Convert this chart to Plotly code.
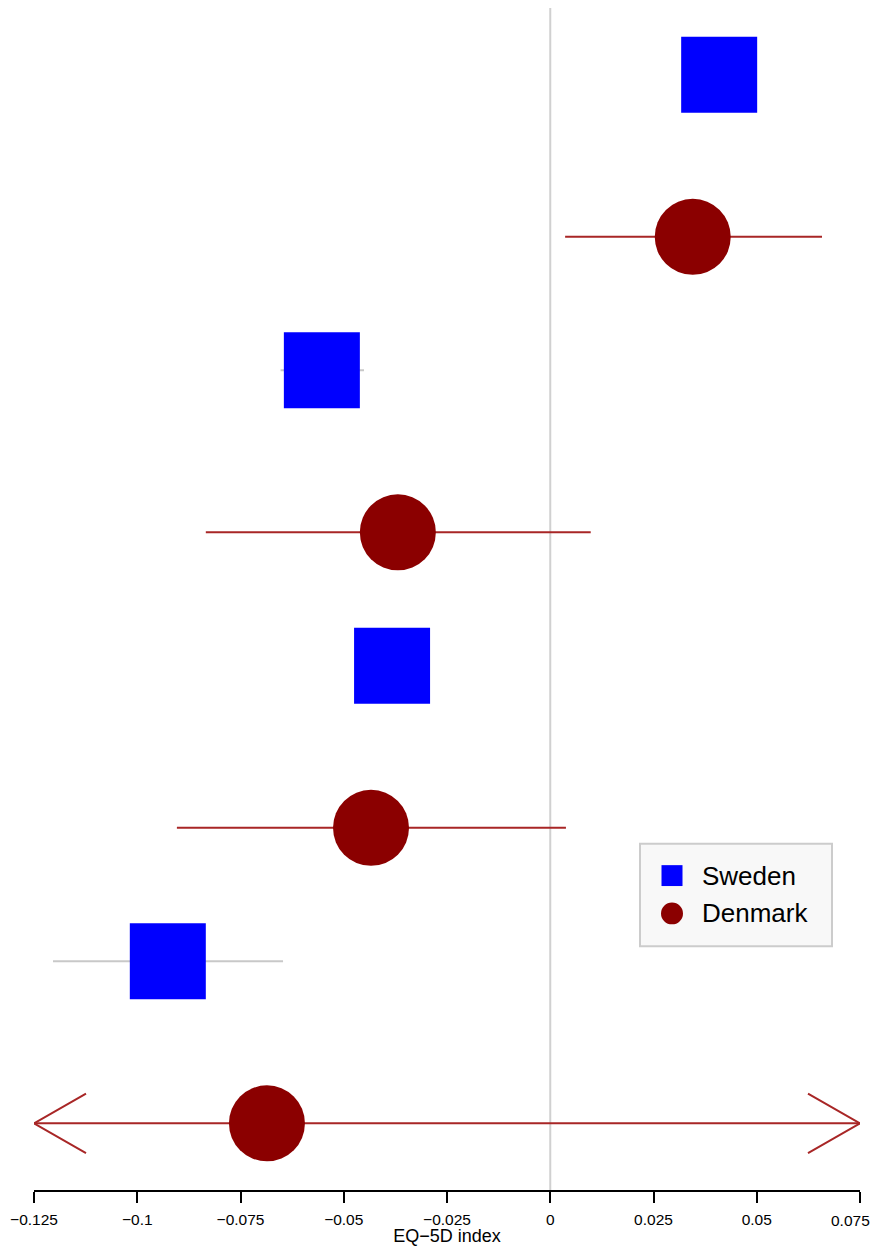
import plotly.graph_objects as go

# ---- data ----
groups = [0, 1, 2, 3]
sweden_est = [0.0409, -0.0553, -0.0383, -0.0926]
sweden_lo = [0.0385, -0.0653, -0.0420, -0.1204]
sweden_hi = [0.0433, -0.0451, -0.0346, -0.0647]
denmark_est = [0.0345, -0.0369, -0.0434, -0.0686]
denmark_lo = [0.0036, -0.0834, -0.0904, -0.2290]
denmark_hi = [0.0658, 0.0098, 0.0038, 0.0920]
tick_vals = [-0.125, -0.1, -0.075, -0.05, -0.025, 0, 0.025, 0.05, 0.075]
tick_text = ["\u22120.125", "\u22120.1", "\u22120.075", "\u22120.05", "\u22120.025",
             "0", "0.025", "0.05", "0.075"]
x_title = "EQ\u22125D index"
series_names = ["Sweden", "Denmark"]

# ---- style ----
PAGE_OFF = 8                      # browser default body margin
W, H = 873, 1238
ML, MR, MT, MB = 26, 21, 0, 50
XMIN, XMAX = -0.125, 0.075
OFFSET = 0.2745
BLUE = "#0000ff"
DARKRED = "#8b0000"
RED_LINE = "#a82626"
GRAY_LINE = "#c8c8c8"
FONT = "Liberation Sans, Arial, sans-serif"
TICK_SIZE = 15.5

pw = W - ML - MR
ph = H - MT - MB
xscale = pw / (XMAX - XMIN)      # px per unit x
yscale = ph / 4.0                # px per unit y
arrow_dx = 52 / xscale
arrow_dy = 30 / yscale

fig = go.Figure()


def add_ci(est_y, lo, hi, color):
    for yv, a, b in zip(est_y, lo, hi):
        a_c = max(a, XMIN)
        b_c = min(b, XMAX)
        fig.add_trace(go.Scatter(x=[a_c, b_c], y=[yv, yv], mode="lines",
                                 line=dict(color=color, width=2),
                                 showlegend=False, hoverinfo="skip",
                                 cliponaxis=False))
        if a < XMIN:
            fig.add_trace(go.Scatter(
                x=[a_c + arrow_dx, a_c, a_c + arrow_dx],
                y=[yv - arrow_dy, yv, yv + arrow_dy], mode="lines",
                line=dict(color=color, width=2), showlegend=False,
                hoverinfo="skip", cliponaxis=False))
        if b > XMAX:
            fig.add_trace(go.Scatter(
                x=[b_c - arrow_dx, b_c, b_c - arrow_dx],
                y=[yv - arrow_dy, yv, yv + arrow_dy], mode="lines",
                line=dict(color=color, width=2), showlegend=False,
                hoverinfo="skip", cliponaxis=False))


sw_y = [g - OFFSET for g in groups]
dk_y = [g + OFFSET for g in groups]

add_ci(sw_y, sweden_lo, sweden_hi, GRAY_LINE)
add_ci(dk_y, denmark_lo, denmark_hi, RED_LINE)

fig.add_trace(go.Scatter(x=sweden_est, y=sw_y, mode="markers", name=series_names[0],
                         marker=dict(symbol="square", size=76, color=BLUE,
                                     line=dict(width=0)),
                         showlegend=False, cliponaxis=False, hoverinfo="skip"))
fig.add_trace(go.Scatter(x=denmark_est, y=dk_y, mode="markers", name=series_names[1],
                         marker=dict(symbol="circle", size=76, color=DARKRED,
                                     line=dict(width=0)),
                         showlegend=False, cliponaxis=False, hoverinfo="skip"))

# zero reference line
fig.add_shape(type="line", xref="x", yref="paper", x0=0, x1=0, y0=0, y1=1,
              line=dict(color="#d0d0d0", width=2), layer="below")


# ---- custom legend (page-pixel helpers) ----
def px_x(p):
    return (p - PAGE_OFF - ML) / pw


def px_y(p):
    return (H - MB - (p - PAGE_OFF)) / ph


fig.add_shape(type="rect", xref="paper", yref="paper",
              x0=px_x(640), x1=px_x(832), y0=px_y(951), y1=px_y(848),
              line=dict(color="#cccccc", width=2), fillcolor="#f8f8f8", layer="above")
fig.add_shape(type="rect", xref="paper", yref="paper",
              x0=px_x(661.5), x1=px_x(682.5), y0=px_y(890.5), y1=px_y(869.5),
              line=dict(width=0), fillcolor=BLUE, layer="above")
fig.add_shape(type="circle", xref="paper", yref="paper",
              x0=px_x(661), x1=px_x(683), y0=px_y(929), y1=px_y(907),
              line=dict(width=0), fillcolor=DARKRED, layer="above")
for name, cy in zip(series_names, [880, 918]):
    fig.add_annotation(text=name, xref="paper", yref="paper",
                       x=px_x(700), y=px_y(cy), xanchor="left", yanchor="middle",
                       showarrow=False, font=dict(family=FONT, size=26, color="black"))

# last tick label drawn right-aligned so it stays inside the visible page
shown_ticks = tick_text[:-1] + [""]
fig.add_annotation(text=tick_text[-1], xref="x", yref="paper", x=tick_vals[-1], y=0,
                   xanchor="right", yanchor="middle", xshift=12, yshift=-30,
                   showarrow=False, font=dict(family=FONT, size=TICK_SIZE, color="black"))

fig.update_layout(
    width=W, height=H,
    margin=dict(l=ML, r=MR, t=MT, b=MB, pad=0),
    plot_bgcolor="white", paper_bgcolor="white",
    showlegend=False, hovermode=False,
    font=dict(family=FONT, color="black"),
    xaxis=dict(range=[XMIN, XMAX], tickvals=tick_vals, ticktext=shown_ticks,
               showgrid=False, zeroline=False, showline=True, linecolor="black",
               linewidth=2, ticks="outside", ticklen=11, tickwidth=2,
               tickcolor="black", tickfont=dict(size=TICK_SIZE, family=FONT),
               ticklabelstandoff=3,
               title=dict(text=x_title, font=dict(size=18, family=FONT), standoff=6),
               fixedrange=True),
    yaxis=dict(range=[3.5, -0.5], visible=False, fixedrange=True),
)

fig.write_html("out.html", config={"displayModeBar": False, "staticPlot": True})
